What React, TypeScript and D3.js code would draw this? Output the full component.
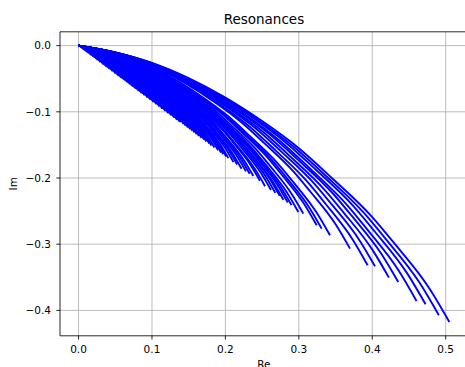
import React from "react";
import * as d3 from "d3";

// Endpoints of each resonance track (Re, Im)
const endRe = [
  0.006, 0.008, 0.010, 0.012, 0.014, 0.016, 0.018, 0.020, 0.022, 0.024,
  0.026, 0.028, 0.030, 0.032, 0.034, 0.036, 0.038, 0.040, 0.042, 0.044,
  0.046, 0.048, 0.050, 0.052, 0.054, 0.056, 0.058, 0.060, 0.062, 0.064,
  0.066, 0.068, 0.070, 0.072, 0.074, 0.076, 0.078, 0.080, 0.082, 0.084,
  0.086, 0.088, 0.090, 0.092, 0.094, 0.096, 0.098, 0.100, 0.102, 0.104,
  0.106, 0.108, 0.110, 0.112, 0.114, 0.116, 0.118, 0.120, 0.122, 0.124,
  0.126, 0.128, 0.130, 0.132, 0.134, 0.136, 0.138, 0.140,
  0.143, 0.146, 0.149, 0.152, 0.155, 0.158, 0.161, 0.164, 0.1675, 0.171,
  0.174, 0.178, 0.181, 0.185, 0.19, 0.194, 0.197, 0.201, 0.204, 0.211,
  0.216, 0.222, 0.228, 0.233, 0.238, 0.247, 0.254, 0.262, 0.268, 0.274,
  0.279, 0.285, 0.290, 0.2993, 0.3061, 0.3243, 0.3311, 0.3424, 0.3697,
  0.3937, 0.4037, 0.4227, 0.4354, 0.4603, 0.4726, 0.4907, 0.505,
];
const endIm = [
  -0.0050, -0.0066, -0.0084, -0.0099, -0.0117, -0.0132, -0.0150, -0.0165, -0.0184, -0.0198,
  -0.0217, -0.0231, -0.0251, -0.0264, -0.0284, -0.0297, -0.0318, -0.0330, -0.0351, -0.0363,
  -0.0385, -0.0396, -0.0418, -0.0430, -0.0451, -0.0463, -0.0485, -0.0496, -0.0518, -0.0529,
  -0.0552, -0.0562, -0.0585, -0.0595, -0.0619, -0.0628, -0.0652, -0.0661, -0.0686, -0.0694,
  -0.0719, -0.0727, -0.0752, -0.0760, -0.0786, -0.0793, -0.0819, -0.0826, -0.0853, -0.0859,
  -0.0886, -0.0892, -0.0920, -0.0925, -0.0953, -0.0958, -0.0986, -0.0991, -0.1020, -0.1024,
  -0.1053, -0.1057, -0.1087, -0.1090, -0.1120, -0.1123, -0.1154, -0.1156,
  -0.1186, -0.1212, -0.1237, -0.1262, -0.1287, -0.1313, -0.1340, -0.1366, -0.1395, -0.1420,
  -0.1448, -0.1480, -0.1510, -0.1540, -0.1580, -0.1615, -0.1640, -0.1675, -0.1700, -0.1760,
  -0.1795, -0.1860, -0.1900, -0.1935, -0.1970, -0.2040, -0.2125, -0.2180, -0.2225, -0.2270,
  -0.2330, -0.2370, -0.2410, -0.2513, -0.2538, -0.2715, -0.2765, -0.2866, -0.3067,
  -0.3319, -0.3334, -0.3505, -0.3571, -0.3858, -0.3908, -0.4074, -0.4175,
];

// Shape of the outermost track
const outerRe = [0, 0.05, 0.1, 0.15, 0.2, 0.25, 0.3, 0.345, 0.4, 0.431, 0.4785, 0.505];
const outerIm = [0, -0.0101, -0.026, -0.049, -0.0785, -0.114, -0.155, -0.2, -0.259, -0.3, -0.368, -0.4175];

const xTicks = [0.0, 0.1, 0.2, 0.3, 0.4, 0.5];
const yTicks = [0.0, -0.1, -0.2, -0.3, -0.4];

const W = 465;
const H = 367;
const left = 60;
const right = 467.9;
const top = 31.8;
const bottom = 335.8;

export default function App() {
  const nO = outerRe.length;
  const fr = outerRe.map((v) => v / outerRe[nO - 1]);
  const gr = outerIm.map((v) => v / outerIm[nO - 1]);

  const tracks = endRe.map((er, i) =>
    fr.map((f, k) => [er * f, endIm[i] * gr[k]] as [number, number])
  );

  const xMin = 0, xMax = d3.max(endRe)!;
  const yMin = d3.min(endIm)!, yMax = 0;
  const mx = (xMax - xMin) * 0.05;
  const my = (yMax - yMin) * 0.05;
  const x = d3.scaleLinear().domain([xMin - mx, xMax + mx]).range([left, right]);
  const y = d3.scaleLinear().domain([yMin - my, yMax + my]).range([bottom, top]);

  const line = d3
    .line<[number, number]>()
    .x((d) => x(d[0]))
    .y((d) => y(d[1]))
    .curve(d3.curveMonotoneX);

  const fmt = d3.format(".1f");
  const font = "DejaVu Sans, sans-serif";

  return (
    <svg
      width={W}
      height={H}
      style={{ position: "absolute", left: 0, top: 0, background: "#fff" }}
      fontFamily={font}
    >
      <rect x={0} y={0} width={W} height={H} fill="#fff" />
      <defs>
        <clipPath id="plotclip">
          <rect x={left} y={top} width={right - left} height={bottom - top} />
        </clipPath>
      </defs>
      {/* grid */}
      {xTicks.map((t) => (
        <line key={"gx" + t} x1={x(t)} x2={x(t)} y1={top} y2={bottom} stroke="#b0b0b0" strokeWidth={0.85} />
      ))}
      {yTicks.map((t) => (
        <line key={"gy" + t} x1={left} x2={right} y1={y(t)} y2={y(t)} stroke="#b0b0b0" strokeWidth={0.85} />
      ))}
      {/* tracks */}
      <g clipPath="url(#plotclip)">
        {tracks.map((tr, i) => (
          <path key={i} d={line(tr) || ""} fill="none" stroke="#0000ff" strokeWidth={1.9} strokeLinecap="butt" />
        ))}
      </g>
      {/* spines */}
      <line x1={left} x2={left} y1={top} y2={bottom} stroke="#000" strokeWidth={0.85} />
      <line x1={left} x2={right} y1={bottom} y2={bottom} stroke="#000" strokeWidth={0.85} />
      <line x1={left} x2={right} y1={top} y2={top} stroke="#000" strokeWidth={0.85} />
      {/* x ticks */}
      {xTicks.map((t) => (
        <g key={"tx" + t}>
          <line x1={x(t)} x2={x(t)} y1={bottom} y2={bottom + 3.7} stroke="#000" strokeWidth={0.85} />
          <text x={x(t)} y={353} textAnchor="middle" fontSize={10.5} fill="#000">
            {fmt(t)}
          </text>
        </g>
      ))}
      {/* y ticks */}
      {yTicks.map((t) => (
        <g key={"ty" + t}>
          <line x1={left - 3.7} x2={left} y1={y(t)} y2={y(t)} stroke="#000" strokeWidth={0.85} />
          <text x={51} y={y(t) + 3.8} textAnchor="end" fontSize={10.5} fill="#000">
            {fmt(t)}
          </text>
        </g>
      ))}
      <text x={(left + right) / 2} y={24} textAnchor="middle" fontSize={13.5} fill="#000">
        Resonances
      </text>
      <text x={(left + right) / 2} y={368} textAnchor="middle" fontSize={10.5} fill="#000">
        Re
      </text>
      <text
        transform={`translate(17.3, ${(top + bottom) / 2}) rotate(-90)`}
        textAnchor="middle"
        fontSize={10.5}
        fill="#000"
      >
        Im
      </text>
    </svg>
  );
}
